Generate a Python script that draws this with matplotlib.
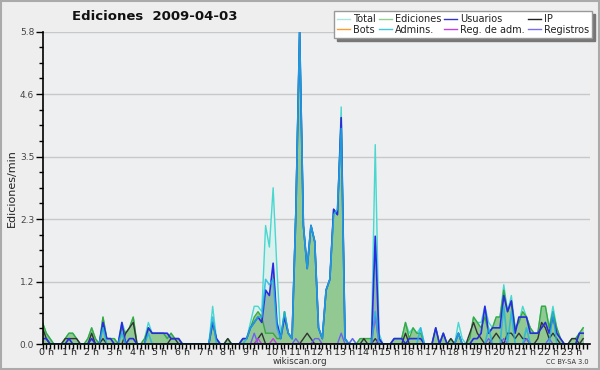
import numpy as np
import matplotlib
matplotlib.use("Agg")
import matplotlib.pyplot as plt
from matplotlib.transforms import ScaledTranslation
from matplotlib.ticker import FixedLocator
from matplotlib.lines import Line2D

# ---- data: edits per minute, one value per 10 minutes (rows = hours) ----
total = [
    0.4, 0.2, 0.1, 0, 0, 0,
    0.1, 0.2, 0.2, 0.1, 0, 0,
    0.1, 0.3, 0.1, 0, 0.5, 0.1,
    0.1, 0.1, 0, 0.4, 0.2, 0.3,
    0.5, 0, 0, 0.1, 0.4, 0.2,
    0.2, 0.2, 0.2, 0.1, 0.2, 0.1,
    0.1, 0, 0, 0, 0, 0,
    0, 0, 0, 0.7, 0.1, 0,
    0, 0.1, 0, 0, 0, 0.1,
    0.1, 0.4, 0.7, 0.7, 0.6, 2.2,
    1.8, 2.9, 1.4, 0.1, 0.6, 0.2,
    0.1, 2.5, 5.8, 2.2, 1.4, 2.2,
    1.9, 0.3, 0.1, 1.0, 1.2, 2.5,
    2.4, 4.4, 0.1, 0, 0.1, 0,
    0.1, 0.1, 0.1, 0.1, 3.7, 0.2,
    0, 0, 0, 0.1, 0.1, 0.1,
    0.4, 0.2, 0.3, 0.2, 0.3, 0,
    0, 0, 0.3, 0, 0.2, 0,
    0.1, 0, 0.4, 0.1, 0, 0.1,
    0.5, 0.4, 0.4, 0.7, 0.4, 0.3,
    0.5, 0.5, 1.1, 0.6, 0.9, 0.3,
    0.4, 0.7, 0.5, 0.3, 0.2, 0.2,
    0.7, 0.7, 0.3, 0.7, 0.3, 0.1,
    0, 0, 0.1, 0.1, 0.2, 0.3,
]
ediciones = [
    0.4, 0.2, 0.1, 0, 0, 0,
    0.1, 0.2, 0.2, 0.1, 0, 0,
    0.1, 0.3, 0.1, 0, 0.5, 0.1,
    0.1, 0.1, 0, 0.3, 0.2, 0.3,
    0.5, 0, 0, 0.1, 0.3, 0.2,
    0.2, 0.2, 0.2, 0.1, 0.2, 0.1,
    0.1, 0, 0, 0, 0, 0,
    0, 0, 0, 0.4, 0.1, 0,
    0, 0.1, 0, 0, 0, 0.1,
    0.1, 0.3, 0.5, 0.6, 0.5, 0.2,
    0.2, 0.2, 0.1, 0.1, 0.6, 0.2,
    0.1, 2.5, 5.8, 2.2, 1.4, 2.2,
    1.9, 0.3, 0.1, 1.0, 1.2, 2.5,
    2.4, 4.2, 0.1, 0, 0, 0,
    0.1, 0.1, 0.1, 0.1, 0.5, 0.1,
    0, 0, 0, 0.1, 0.1, 0.1,
    0.4, 0.1, 0.3, 0.2, 0.2, 0,
    0, 0, 0.3, 0, 0.2, 0,
    0.1, 0, 0.2, 0, 0, 0.1,
    0.5, 0.4, 0.3, 0.5, 0.2, 0.3,
    0.5, 0.5, 1.0, 0.6, 0.8, 0.3,
    0.4, 0.6, 0.5, 0.3, 0.2, 0.2,
    0.7, 0.7, 0.3, 0.6, 0.3, 0.1,
    0, 0, 0.1, 0.1, 0.2, 0.3,
]
usuarios = [
    0.1, 0.1, 0, 0, 0, 0,
    0, 0.1, 0, 0, 0, 0,
    0, 0.1, 0, 0, 0.4, 0.1,
    0.1, 0, 0, 0.4, 0, 0.1,
    0.1, 0, 0, 0, 0.3, 0.2,
    0.2, 0.2, 0.2, 0.2, 0.1, 0.1,
    0.1, 0, 0, 0, 0, 0,
    0, 0, 0, 0.4, 0.1, 0,
    0, 0, 0, 0, 0, 0.1,
    0.1, 0.3, 0.4, 0.5, 0.4, 1.0,
    0.9, 1.5, 0.4, 0.1, 0.5, 0.2,
    0.1, 2.4, 5.8, 2.2, 1.4, 2.2,
    1.9, 0.3, 0.1, 1.0, 1.2, 2.5,
    2.4, 4.2, 0.1, 0, 0, 0,
    0, 0, 0, 0, 2.0, 0.1,
    0, 0, 0, 0.1, 0.1, 0.1,
    0, 0.1, 0.1, 0.1, 0.1, 0,
    0, 0, 0.3, 0, 0.2, 0,
    0, 0, 0.2, 0, 0, 0,
    0.1, 0.1, 0.2, 0.7, 0.2, 0.3,
    0.3, 0.3, 0.9, 0.6, 0.8, 0.2,
    0.5, 0.5, 0.5, 0.2, 0.2, 0.2,
    0.3, 0.4, 0.2, 0.5, 0.2, 0.1,
    0, 0, 0, 0, 0.2, 0.2,
]
ip = [
    0.3, 0.1, 0, 0, 0, 0,
    0.1, 0.1, 0.1, 0.1, 0, 0,
    0, 0.2, 0, 0, 0.1, 0,
    0, 0, 0, 0, 0.2, 0.3,
    0.4, 0, 0, 0, 0, 0,
    0, 0, 0, 0, 0.1, 0.1,
    0, 0, 0, 0, 0, 0,
    0, 0, 0, 0, 0, 0,
    0, 0.1, 0, 0, 0, 0,
    0, 0, 0, 0.1, 0.2, 0,
    0, 0, 0, 0, 0, 0,
    0, 0, 0, 0.1, 0.2, 0.1,
    0, 0, 0, 0, 0, 0,
    0, 0, 0, 0, 0, 0,
    0, 0.1, 0, 0, 0.1, 0,
    0, 0, 0, 0, 0, 0,
    0.2, 0, 0, 0, 0, 0,
    0, 0, 0, 0, 0, 0,
    0.1, 0, 0, 0, 0, 0.2,
    0.4, 0.2, 0.1, 0, 0, 0.1,
    0.2, 0.1, 0, 0.2, 0.2, 0.1,
    0.2, 0.1, 0.1, 0, 0, 0.1,
    0.4, 0.3, 0.1, 0.2, 0.1, 0,
    0, 0, 0.1, 0.1, 0, 0.1,
]
bots = [
    0, 0, 0, 0, 0, 0,  0, 0, 0, 0, 0, 0,  0, 0, 0, 0, 0, 0,  0, 0, 0, 0, 0, 0,
    0, 0, 0, 0, 0, 0,  0, 0, 0, 0, 0, 0,  0, 0, 0, 0, 0, 0,  0, 0, 0, 0, 0, 0,
    0, 0, 0, 0, 0, 0,  0, 0, 0, 0, 0, 0,  0, 0, 0, 0, 0, 0,  0, 0, 0, 0, 0, 0,
    0, 0, 0, 0, 0, 0,  0, 0, 0, 0, 0, 0,  0, 0, 0, 0, 0, 0,  0, 0, 0, 0, 0, 0,
    0, 0, 0, 0, 0, 0,  0, 0, 0, 0, 0, 0,  0, 0, 0, 0, 0, 0,  0, 0, 0, 0, 0, 0,
    0, 0, 0, 0, 0, 0,  0, 0, 0, 0, 0, 0,  0, 0, 0, 0, 0, 0,  0, 0, 0, 0, 0, 0,
]
admins = [
    0, 0, 0, 0, 0, 0,
    0, 0, 0, 0, 0, 0,
    0, 0, 0, 0, 0.3, 0,
    0, 0, 0, 0.2, 0, 0,
    0, 0, 0, 0, 0.2, 0,
    0, 0, 0, 0, 0, 0,
    0, 0, 0, 0, 0, 0,
    0, 0, 0, 0.5, 0, 0,
    0, 0, 0, 0, 0, 0,
    0.1, 0.3, 0.4, 0.5, 0.5, 1.2,
    1.1, 1.2, 0.3, 0.1, 0.6, 0.2,
    0.1, 2.4, 5.8, 2.2, 1.4, 2.2,
    1.9, 0.3, 0.1, 1.0, 1.2, 2.4,
    2.5, 4.0, 0.1, 0, 0, 0,
    0, 0, 0, 0, 0.6, 0,
    0, 0, 0, 0, 0, 0,
    0, 0, 0, 0, 0.3, 0,
    0, 0, 0, 0, 0, 0,
    0, 0, 0.2, 0, 0, 0,
    0, 0, 0, 0, 0.3, 0,
    0, 0, 0.7, 0, 0.6, 0,
    0, 0, 0.3, 0, 0, 0,
    0, 0, 0, 0.6, 0, 0,
    0, 0, 0, 0, 0, 0,
]
reg_adm = [
    0, 0, 0, 0, 0, 0,  0, 0, 0, 0, 0, 0,  0, 0, 0, 0, 0, 0,  0, 0, 0, 0, 0, 0,
    0, 0, 0, 0, 0, 0,  0, 0, 0, 0, 0, 0,  0, 0, 0, 0, 0, 0,  0, 0, 0, 0, 0, 0,
    0, 0, 0, 0, 0, 0,  0, 0, 0, 0.1, 0, 0,  0, 0.1, 0, 0, 0, 0,  0, 0, 0, 0, 0, 0,
    0, 0, 0, 0, 0, 0,  0, 0, 0, 0, 0, 0,  0, 0, 0, 0, 0.5, 0,  0, 0, 0, 0, 0, 0,
    0, 0, 0, 0, 0, 0,  0, 0, 0, 0, 0, 0,  0, 0, 0, 0, 0, 0,  0, 0, 0, 0, 0, 0,
    0, 0, 0, 0, 0, 0,  0, 0, 0, 0, 0, 0,  0, 0, 0, 0, 0, 0,  0, 0, 0, 0, 0, 0,
]
registros = [
    0, 0, 0, 0, 0, 0,  0, 0, 0, 0, 0, 0,  0, 0, 0, 0, 0, 0,  0, 0, 0, 0, 0, 0,
    0, 0, 0, 0, 0, 0,  0, 0, 0, 0, 0, 0,  0, 0, 0, 0, 0, 0,  0, 0, 0, 0, 0, 0,
    0, 0, 0, 0, 0, 0,  0, 0, 0.2, 0, 0, 0,  0, 0, 0, 0, 0, 0,  0, 0.1, 0, 0, 0, 0,
    0.1, 0.1, 0, 0, 0, 0,  0, 0.2, 0, 0, 0.1, 0,  0, 0, 0, 0, 0, 0.1,  0, 0, 0, 0, 0, 0,
    0, 0, 0, 0, 0, 0,  0, 0, 0, 0, 0, 0,  0, 0, 0, 0, 0, 0,  0, 0, 0, 0, 0.1, 0,
    0, 0, 0.1, 0, 0, 0,  0, 0, 0.1, 0, 0, 0,  0, 0, 0.1, 0, 0, 0,  0, 0, 0, 0, 0, 0,
]

hour_labels = [f"{h} h" for h in range(24)]
y_ticks = [0.0, 1.16, 2.32, 3.48, 4.64, 5.8]
y_tick_labels = ["0.0", "1.2", "2.3", "3.5", "4.6", "5.8"]
title = "Ediciones  2009-04-03"
ylabel = "Ediciones/min"

# ---- figure ----
W, H = 600, 370
fig = plt.figure(figsize=(6.0, 3.7), dpi=100, facecolor="#eeeeee")
ax = fig.add_axes([42.5 / W, 1 - 344 / H, (590 - 42.5) / W, (344 - 31.5) / H])
ax.set_facecolor("#eeeff1")

x = np.arange(len(total))

ax.fill_between(x, total, color="#dcf0ed", lw=0, zorder=1)
ax.fill_between(x, usuarios, color="#8dbaa9", lw=0, zorder=2)
ax.fill_between(x, ediciones, color="#92c992", lw=0, zorder=3)

lw = 1.0
ax.plot(x, bots, color="#ff9a2e", lw=lw, zorder=4)
ax.plot(x, total, color="#48d8d0", lw=lw, zorder=5)
ax.plot(x, ediciones, color="#3aa83a", lw=lw, zorder=5)
ax.plot(x, ip, color="#333333", lw=lw, zorder=6)
ax.plot(x, registros, color="#6e62ee", lw=lw, zorder=6)
ax.plot(x, reg_adm, color="#c040e0", lw=lw, zorder=6)
ax.plot(x, usuarios, color="#2a2ae0", lw=1.2, zorder=7)
ax.plot(x, admins, color="#1eb4e0", lw=1.2, alpha=0.8, zorder=8)

ax.set_xlim(0, 144.8)
ax.set_ylim(0, 5.8)

for yv in y_ticks[1:]:
    ax.axhline(yv, color="#c8c8c8", lw=1, zorder=0.5)

ax.set_yticks(y_ticks)
ax.set_yticklabels(y_tick_labels)
ax.yaxis.set_minor_locator(FixedLocator([k * 0.29 for k in range(21)]))
ax.set_xticks(list(range(0, 144, 6)))
ax.set_xticklabels(hour_labels)
ax.xaxis.set_minor_locator(FixedLocator(list(range(0, 145))))

ax.tick_params(axis="y", which="major", length=5, width=1, labelsize=6.5,
               labelcolor="#444444", pad=1)
ax.tick_params(axis="y", which="minor", length=3, width=1)
ax.tick_params(axis="x", which="both", length=3.5, width=1, labelsize=6.8,
               labelcolor="#222222", pad=-0.5)
off = ScaledTranslation(-3.5 / 100, 0, fig.dpi_scale_trans)
for lab in ax.get_xticklabels():
    lab.set_horizontalalignment("left")
    lab.set_transform(lab.get_transform() + off)

for s in ("top", "right"):
    ax.spines[s].set_visible(False)
for s in ("left", "bottom"):
    ax.spines[s].set_linewidth(1.2)
    ax.spines[s].set_color("black")
    ax.spines[s].set_zorder(10)

fig.text(12 / W, 1 - 188 / H, ylabel, rotation=90, ha="center", va="center",
         fontsize=8, color="#222222")
fig.text(155 / W, 1 - 17 / H, title, ha="center", va="center",
         fontsize=9.5, fontweight="bold", color="#111111")
fig.text(300 / W, 1 - 362 / H, "wikiscan.org", ha="center", va="center",
         fontsize=6.3, color="#333333")
fig.text(589 / W, 1 - 362 / H, "CC BY-SA 3.0", ha="right", va="center",
         fontsize=4.8, color="#333333")

entries = [
    ("Total", "#a8e6e0"), ("Bots", "#ff9a2e"),
    ("Ediciones", "#90d090"), ("Admins.", "#40c8e0"),
    ("Usuarios", "#3333cc"), ("Reg. de adm.", "#c040e0"),
    ("IP", "#222222"), ("Registros", "#7a6ef0"),
]
handles = [Line2D([0], [0], color=c, lw=1) for _, c in entries]
labels = [l for l, _ in entries]
leg = fig.legend(handles, labels, ncol=4, loc="upper right",
                 bbox_to_anchor=(592 / W, 1 - 11 / H), fontsize=7,
                 frameon=True, fancybox=False, framealpha=1,
                 edgecolor="#999999", facecolor="white",
                 shadow={"color": "#777777", "alpha": 1},
                 handlelength=1.3, handletextpad=0.35, columnspacing=0.3,
                 borderpad=0.3, labelspacing=0.1, borderaxespad=0)
leg.set_zorder(20)
for t in leg.get_texts():
    t.set_color("#222222")

fig.patches.append(plt.Rectangle((0.001, 0.002), 0.997, 0.996, transform=fig.transFigure,
                                 fill=False, edgecolor="#aaaaaa", lw=1.5))

fig.savefig("out.png", dpi=100, facecolor=fig.get_facecolor())
